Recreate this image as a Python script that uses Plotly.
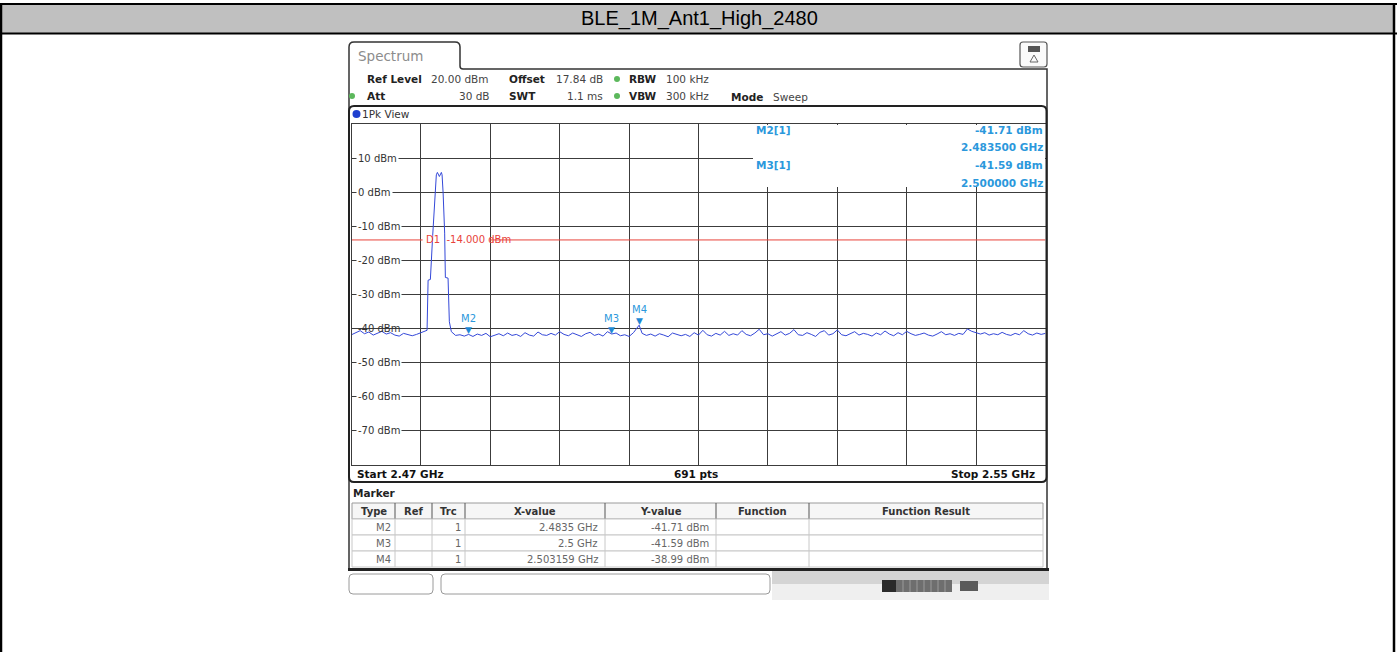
import plotly.graph_objects as go

W, H = 1399, 652

# ---------------- data ----------------
title_text = "BLE_1M_Ant1_High_2480"
start_mhz = 2470.0
stop_mhz = 2550.0
sweep_points = 691
ref_level_dbm = 20.0
bottom_dbm = -80.0
y_div_db = 10.0
x_div_mhz = 8.0
limit_dbm = -14.0
ytick_vals = [10, 0, -10, -20, -30, -40, -50, -60, -70]

trace_freq_mhz = [
    2470.0, 2470.5, 2471.0, 2471.5, 2472.0, 2472.5, 2473.0, 2473.5, 2474.0, 2474.5,
    2475.0, 2475.5, 2476.0, 2476.5, 2477.0, 2477.5, 2478.0, 2478.5,
    2478.71, 2478.83, 2479.09, 2479.36, 2479.67, 2479.78, 2479.90, 2480.13, 2480.36,
    2480.44, 2480.56, 2480.74, 2480.82, 2481.13, 2481.28, 2481.51,
    2482.0, 2482.5, 2483.0, 2483.5, 2484.0, 2484.5, 2485.0, 2485.5, 2486.0, 2486.5,
    2487.0, 2487.5, 2488.0, 2488.5, 2489.0, 2489.5, 2490.0, 2490.5, 2491.0, 2491.5,
    2492.0, 2492.5, 2493.0, 2493.5, 2494.0, 2494.5, 2495.0, 2495.5, 2496.0, 2496.5,
    2497.0, 2497.5, 2498.0, 2498.5, 2499.0, 2499.5, 2500.0, 2500.5, 2501.0, 2501.5,
    2502.0, 2502.5, 2503.159, 2503.5, 2504.0, 2504.5, 2505.0, 2505.5, 2506.0, 2506.5,
    2507.0, 2507.5, 2508.0, 2508.5, 2509.0, 2509.5, 2510.0, 2510.5, 2511.0, 2511.5,
    2512.0, 2512.5, 2513.0, 2513.5, 2514.0, 2514.5, 2515.0, 2515.5, 2516.0, 2516.5,
    2517.0, 2517.5, 2518.0, 2518.5, 2519.0, 2519.5, 2520.0, 2520.5, 2521.0, 2521.5,
    2522.0, 2522.5, 2523.0, 2523.5, 2524.0, 2524.5, 2525.0, 2525.5, 2526.0, 2526.5,
    2527.0, 2527.5, 2528.0, 2528.5, 2529.0, 2529.5, 2530.0, 2530.5, 2531.0, 2531.5,
    2532.0, 2532.5, 2533.0, 2533.5, 2534.0, 2534.5, 2535.0, 2535.5, 2536.0, 2536.5,
    2537.0, 2537.5, 2538.0, 2538.5, 2539.0, 2539.5, 2540.0, 2540.5, 2541.0, 2541.5,
    2542.0, 2542.5, 2543.0, 2543.5, 2544.0, 2544.5, 2545.0, 2545.5, 2546.0, 2546.5,
    2547.0, 2547.5, 2548.0, 2548.5, 2549.0, 2549.5, 2550.0,
]
trace_level_dbm = [
    -41.8, -41.2, -40.6, -41.5, -41.0, -41.9, -41.3, -40.8, -41.6, -41.2,
    -41.9, -42.2, -41.4, -41.8, -42.1, -41.7, -41.3, -40.9,
    -40.5, -25.8, -25.6, -12.7, -0.3, 5.1, 5.8, 4.6, 5.8,
    5.1, -0.2, -12.0, -25.0, -25.2, -38.0, -40.9,
    -42.0, -41.8, -42.2, -41.71, -42.3, -41.6, -42.0, -41.4, -42.4, -41.9,
    -41.5, -42.1, -41.3, -42.0, -41.7, -42.3, -41.2, -41.9, -42.2, -41.0,
    -41.8, -42.0, -41.4, -41.9, -40.9, -41.7, -42.1, -41.3, -41.8, -42.3,
    -41.5, -41.1, -42.0, -41.6, -42.2, -40.9, -41.59, -41.3, -42.1, -41.8,
    -42.3, -41.2, -38.99, -41.4, -42.0, -41.6, -42.2, -41.5, -41.9, -42.4,
    -41.3, -41.8, -42.1, -41.7, -42.3, -41.2, -41.9, -40.5, -41.8, -42.2,
    -41.4, -41.9, -40.8, -42.0, -41.5, -41.9, -40.6, -41.7, -42.1, -41.3,
    -40.2, -41.8, -41.5, -42.2, -41.6, -40.9, -41.9, -41.4, -40.3, -41.8,
    -42.0, -41.2, -41.7, -42.3, -41.1, -40.6, -41.9, -41.5, -40.4, -41.8,
    -42.1, -41.6, -40.9, -41.9, -41.4, -41.7, -42.2, -41.3, -41.8, -40.7,
    -41.6, -42.1, -41.2, -41.8, -40.8, -41.5, -42.0, -41.7, -41.3, -41.9,
    -42.2, -41.6, -40.9, -41.8, -41.5, -42.0, -41.4, -41.7, -40.1, -40.8,
    -41.3, -41.6, -41.2, -41.9, -41.5, -41.8, -41.1, -41.7, -42.0, -41.4,
    -41.8, -40.6, -41.5, -41.9, -41.3, -41.7, -41.4,
]

marker_names = ["M2", "M3", "M4"]
marker_trc = [1, 1, 1]
marker_freq_mhz = [2483.5, 2500.0, 2503.159]
marker_freq_text = ["2.4835 GHz", "2.5 GHz", "2.503159 GHz"]
marker_level_dbm = [-41.71, -41.59, -38.99]
info_marker_count = 2

table_headers = ["Type", "Ref", "Trc", "X-value", "Y-value", "Function", "Function Result"]

setting_ref_level = "20.00 dBm"
setting_att = "30 dB"
setting_offset = "17.84 dB"
setting_swt = "1.1 ms"
setting_rbw = "100 kHz"
setting_vbw = "300 kHz"
setting_mode = "Sweep"

# ---------------- styles ----------------
FONT = "DejaVu Sans"
BLUE_TXT = "#2b98dc"
TRACE_BLUE = "#3448d8"
RED = "#e8433a"
GRID = "#3c3c3c"


def X(px):
    return px / W


def Y(py):
    return 1 - py / H


def pth(points, close=False):
    s = ""
    for i, p in enumerate(points):
        if p[0] == "Q":
            s += f" Q{X(p[1])},{Y(p[2])} {X(p[3])},{Y(p[4])}"
        else:
            s += ("M" if i == 0 else " L") + f"{X(p[0])},{Y(p[1])}"
    return s + (" Z" if close else "")


def rrect(x0, y0, x1, y1, r):
    return pth([
        (x0 + r, y0), (x1 - r, y0), ("Q", x1, y0, x1, y0 + r), (x1, y1 - r),
        ("Q", x1, y1, x1 - r, y1), (x0 + r, y1), ("Q", x0, y1, x0, y1 - r),
        (x0, y0 + r), ("Q", x0, y0, x0 + r, y0)], close=True)


shapes = []
annotations = []


def rect(x0, y0, x1, y1, fill=None, line="rgba(0,0,0,0)", lw=0, layer="above"):
    shapes.append(dict(type="rect", xref="paper", yref="paper", x0=X(x0), x1=X(x1),
                       y0=Y(y1), y1=Y(y0), fillcolor=fill or "rgba(0,0,0,0)",
                       line=dict(color=line, width=lw), layer=layer))


def hline(x0, x1, y, color, lw):
    shapes.append(dict(type="line", xref="paper", yref="paper", x0=X(x0), x1=X(x1),
                       y0=Y(y), y1=Y(y), line=dict(color=color, width=lw)))


def vline(x, y0, y1, color, lw):
    shapes.append(dict(type="line", xref="paper", yref="paper", x0=X(x), x1=X(x),
                       y0=Y(y0), y1=Y(y1), line=dict(color=color, width=lw)))


def path(d, color, lw, fill=None):
    shapes.append(dict(type="path", xref="paper", yref="paper", path=d,
                       line=dict(color=color, width=lw),
                       fillcolor=fill or "rgba(0,0,0,0)"))


def circle(cx, cy, r, fill):
    shapes.append(dict(type="circle", xref="paper", yref="paper", x0=X(cx - r), x1=X(cx + r),
                       y0=Y(cy + r), y1=Y(cy - r), fillcolor=fill, line=dict(width=0)))


def txt(x, y, text, size=10.5, color="#222", anchor="left", bold=False, family=FONT, bg=None):
    annotations.append(dict(xref="paper", yref="paper", x=X(x), y=Y(y),
                            text=f"<b>{text}</b>" if bold else text, showarrow=False,
                            xanchor=anchor, yanchor="middle", borderpad=0,
                            font=dict(family=family, size=size, color=color),
                            bgcolor=bg or "rgba(0,0,0,0)"))


# ---------------- page table (title band) ----------------
rect(1, 4, 1395, 33, fill="#c0c0c0")
hline(0, 1397, 4, "#000", 2)
hline(0, 1397, 33.5, "#000", 2)
vline(1, 3, 652, "#000", 2.5)
vline(1394, 3, 652, "#000", 2.5)
txt(699, 19, title_text, size=20, color="#000", anchor="center", family="Liberation Sans")

# ---------------- instrument frame ----------------
path(pth([(349, 570), (349, 47), ("Q", 349, 42, 354, 42), (455, 42), ("Q", 460, 42, 460, 47),
          (460, 66), ("Q", 460, 69, 463, 69), (1047, 69), (1047, 570)]), "#333", 1.5)
txt(357, 56, "Spectrum", size=13.5, color="#8c8c8c")
path(rrect(1020, 42, 1047, 67, 3), "#555", 1.2, fill="#fafafa")
rect(1028, 46, 1040, 52, fill="#555")
path(pth([(1034, 55), (1038, 62), (1030, 62)], close=True), "#666", 1)

# settings rows
txt(366, 79, "Ref Level", bold=True)
txt(430, 79, setting_ref_level, color="#444")
txt(508, 79, "Offset", bold=True)
txt(555, 79, setting_offset, color="#444")
circle(617, 79, 3, "#5cb85c")
txt(628, 79, "RBW", bold=True)
txt(665, 79, setting_rbw, color="#444")
circle(352, 96, 3, "#5cb85c")
txt(366, 96, "Att", bold=True)
txt(491, 96, setting_att, color="#444", anchor="right")
txt(508, 96, "SWT", bold=True)
txt(604, 96, setting_swt, color="#444", anchor="right")
circle(617, 96, 3, "#5cb85c")
txt(628, 96, "VBW", bold=True)
txt(665, 96, setting_vbw, color="#444")
txt(730, 97, "Mode", bold=True)
txt(772, 97, setting_mode, color="#444")

# graph panel
path(rrect(349, 106, 1046.5, 482, 5), "#222", 2)
circle(356.5, 114, 4, "#1f3fcf")
txt(361, 114, "1Pk View", size=10.5, color="#333")
txt(356, 474, f"Start {start_mhz/1000:g} GHz", bold=True, color="#111")
txt(696, 474, f"{sweep_points} pts", bold=True, color="#111", anchor="center")
txt(1036, 474, f"Stop {stop_mhz/1000:g} GHz", bold=True, color="#111", anchor="right")

# marker info box (covers grid at upper right)
rect(753, 125, 1045, 187, fill="white")
info_rows = [130, 147.5, 165, 182.5]
for i in range(info_marker_count):
    txt(755, info_rows[2 * i], f"{marker_names[i]}[{marker_trc[i]}]", bold=True, color=BLUE_TXT)
    txt(1044, info_rows[2 * i], f"{marker_level_dbm[i]:.2f} dBm", bold=True, color=BLUE_TXT, anchor="right")
    txt(1044, info_rows[2 * i + 1], f"{marker_freq_mhz[i]/1000:.6f} GHz", bold=True, color=BLUE_TXT, anchor="right")

# marker table panel
txt(352, 493, "Marker", bold=True, color="#222")
col_sep = [352, 395, 432, 465, 605, 716, 809, 1043]
rect(352, 503, 1043, 519, fill="#f6f6f6", line="#9a9a9a", lw=1)
for i in range(1, len(col_sep) - 1):
    vline(col_sep[i], 503, 519, "#555", 1)
for i, h in enumerate(table_headers):
    txt((col_sep[i] + col_sep[i + 1]) / 2, 511, h, bold=True, color="#333", anchor="center", size=10)
row_y = [519, 535, 551, 567]
for r in range(3):
    rect(352, row_y[r], 1043, row_y[r + 1], fill="white", line="#c8c8c8", lw=1)
    for i in range(1, len(col_sep) - 1):
        vline(col_sep[i], row_y[r], row_y[r + 1], "#c8c8c8", 1)
    cy = (row_y[r] + row_y[r + 1]) / 2
    txt(392, cy, marker_names[r], color="#666", anchor="right", size=10)
    txt(462, cy, str(marker_trc[r]), color="#666", anchor="right", size=10)
    txt(599, cy, marker_freq_text[r], color="#666", anchor="right", size=10)
    txt(710, cy, f"{marker_level_dbm[r]:.2f} dBm", color="#666", anchor="right", size=10)
hline(348, 1049, 569.5, "#222", 3)

# status bar
path(rrect(349, 574, 433, 594, 4), "#9a9a9a", 1, fill="white")
path(rrect(441, 574, 770, 594, 4), "#9a9a9a", 1, fill="white")
rect(772, 571, 1049, 584, fill="#d4d4d4")
rect(772, 584, 1049, 600, fill="#efefef")
rect(882, 580, 896, 592, fill="#2a2a2a")
rect(896, 580, 952, 592, fill="#6e6e6e")
for sx in [903, 910, 917, 924, 931, 938, 945]:
    vline(sx, 580, 592, "#9a9a9a", 1)
rect(960, 581, 978, 591, fill="#5a5a5a")

# ---------------- data-bound elements ----------------
label_gap = (2478.2, 2485.9)
for a, b in [(start_mhz, label_gap[0]), (label_gap[1], stop_mhz)]:
    shapes.append(dict(type="line", xref="x", yref="y", x0=a, x1=b, y0=limit_dbm, y1=limit_dbm,
                       line=dict(color=RED, width=1), layer="between"))
annotations.append(dict(xref="x", yref="y", x=label_gap[0], y=limit_dbm, xanchor="left",
                        yanchor="middle", showarrow=False, xshift=1,
                        text=f"D1  {limit_dbm:.3f} dBm",
                        font=dict(family=FONT, size=10, color=RED)))

for v in ytick_vals:
    annotations.append(dict(xref="x", yref="y", x=start_mhz, y=v, xanchor="left", yanchor="middle",
                            xshift=4, showarrow=False, text=f"{v} dBm", borderpad=1,
                            bgcolor="rgba(0,0,0,0)" if v == -40 else "white",
                            font=dict(family=FONT, size=10, color="#333")))

for n, f, l in zip(marker_names, marker_freq_mhz, marker_level_dbm):
    annotations.append(dict(xref="x", yref="y", x=f, y=l, xanchor="center", yanchor="bottom",
                            yshift=-3, showarrow=False, text="▼",
                            font=dict(family=FONT, size=9, color="#1e88d4")))
    annotations.append(dict(xref="x", yref="y", x=f, y=l, xanchor="center", yanchor="bottom",
                            yshift=8, showarrow=False, text=n,
                            font=dict(family=FONT, size=10, color=BLUE_TXT)))

fig = go.Figure()
fig.add_trace(go.Scatter(x=trace_freq_mhz, y=trace_level_dbm, mode="lines",
                         line=dict(color=TRACE_BLUE, width=1), hoverinfo="skip"))

fig.update_layout(
    width=W, height=H, autosize=False,
    margin=dict(l=0, r=0, t=0, b=0),
    paper_bgcolor="white", plot_bgcolor="white",
    showlegend=False,
    xaxis=dict(domain=[X(351.5), X(1045.5)], range=[start_mhz, stop_mhz],
               tick0=start_mhz, dtick=x_div_mhz, showgrid=True, gridcolor=GRID, gridwidth=1,
               showticklabels=False, ticks="", zeroline=False,
               showline=True, mirror=True, linecolor=GRID, linewidth=1),
    yaxis=dict(domain=[Y(465), Y(124)], range=[bottom_dbm, ref_level_dbm],
               tick0=bottom_dbm, dtick=y_div_db, showgrid=True, gridcolor=GRID, gridwidth=1,
               showticklabels=False, ticks="", zeroline=False,
               showline=True, mirror=True, linecolor=GRID, linewidth=1),
    shapes=shapes,
    annotations=annotations,
)

fig.write_html("out.html", config={"displayModeBar": False},
               post_script="document.body.style.margin='0';document.body.style.padding='0';")
